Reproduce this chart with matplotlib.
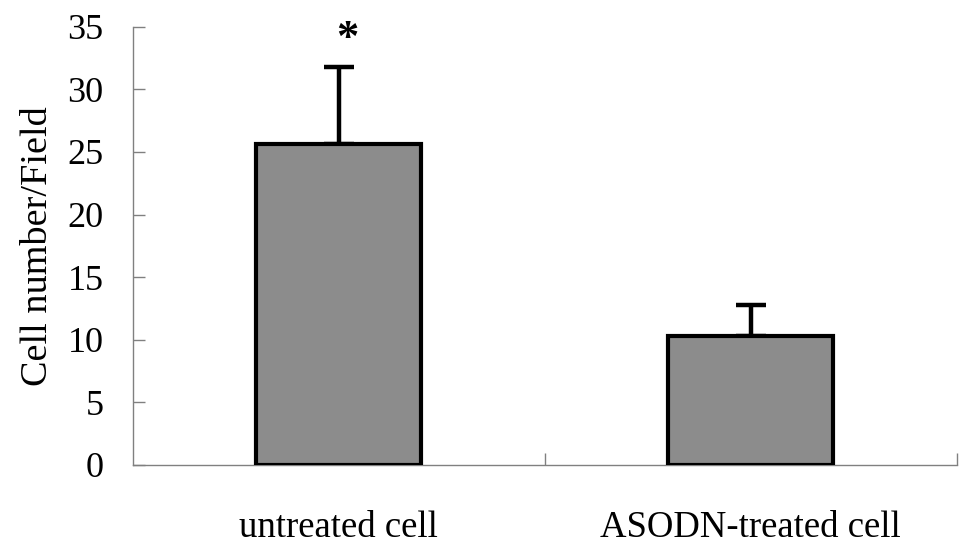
import matplotlib
matplotlib.use("Agg")
import matplotlib.pyplot as plt
import numpy as np

# data
categories = ["untreated cell", "ASODN-treated cell"]
means = [25.6, 10.3]
errors = [6.2, 2.5]
marks = ["*", ""]
yticks = [0, 5, 10, 15, 20, 25, 30, 35]

plt.rcParams["font.family"] = ["Liberation Serif", "DejaVu Serif"]

fig = plt.figure(figsize=(9.69, 5.46), dpi=100)
ax = fig.add_axes([0.137, 0.1484, 0.8504, 0.8027])

x = np.arange(len(categories))
ax.bar(x, means, width=0.40, color="#8c8c8c", edgecolor="black",
       linewidth=3.0, zorder=3)
# only the upper half of the error bar is visible
ax.errorbar(x, means, yerr=[np.zeros(len(errors)), errors], fmt="none",
            ecolor="black", elinewidth=3.2, capsize=10.5, capthick=3.2,
            zorder=2)

for xi, m, e, s in zip(x, means, errors, marks):
    if s:
        ax.text(xi + 0.02, m + e + 2.2, s, ha="center", va="center",
                fontsize=32, fontweight="bold")

ax.set_xlim(-0.5, len(categories) - 0.5)
ax.set_ylim(0, 35)
ax.set_yticks(yticks)
ax.set_xticks(x)
ax.set_xticklabels(categories)
ax.set_xticks(np.arange(len(categories)) + 0.5, minor=True)

ax.tick_params(axis="y", direction="in", length=8.5, width=1.0,
               color="#808080", labelsize=26, pad=21)
ax.tick_params(axis="x", which="major", length=0, labelsize=26.5, pad=33)
ax.tick_params(axis="x", which="minor", direction="in", length=8.5,
               width=1.0, color="#808080")

for side in ["top", "right"]:
    ax.spines[side].set_visible(False)
for side in ["left", "bottom"]:
    ax.spines[side].set_color("#808080")
    ax.spines[side].set_linewidth(1.0)

ax.set_ylabel("Cell number/Field", fontsize=27.5, labelpad=9)

fig.savefig("out.png", dpi=100)
